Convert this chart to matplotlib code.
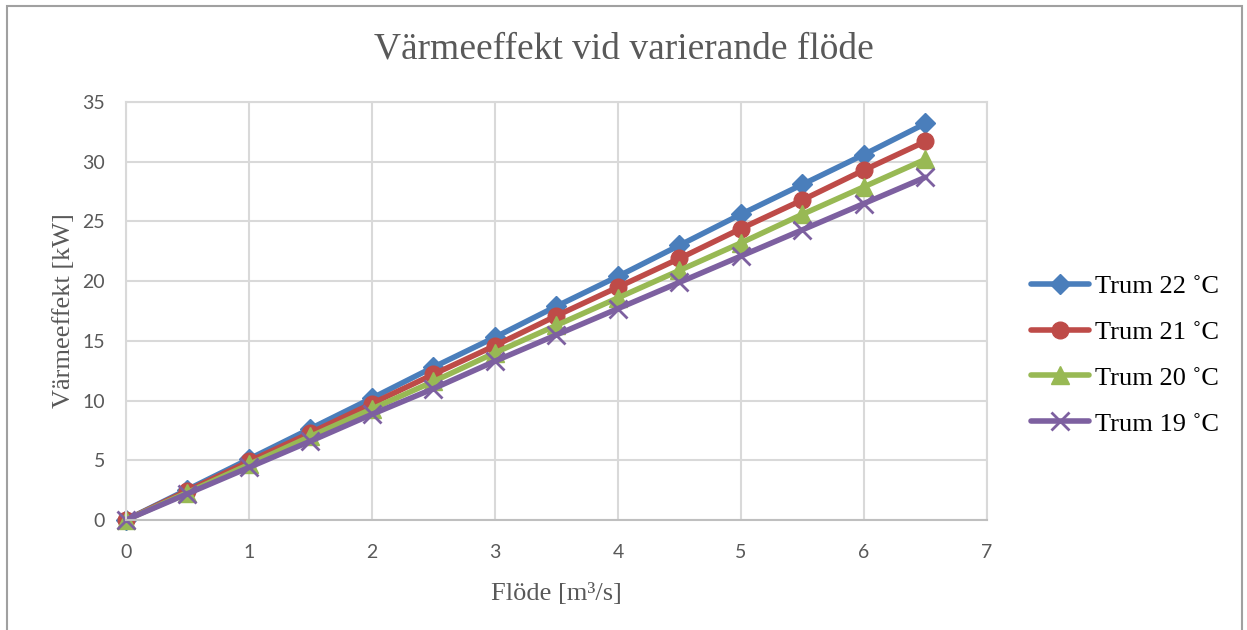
import matplotlib
matplotlib.use("Agg")
from matplotlib import pyplot as plt
from matplotlib.patches import Rectangle

# Flöde [m³/s]
flow = [0, 0.5, 1, 1.5, 2, 2.5, 3, 3.5, 4, 4.5, 5, 5.5, 6, 6.5]

# Värmeeffekt [kW] per trumtemperatur
trum_22 = [0, 2.55, 5.1, 7.65, 10.2, 12.8, 15.3, 17.9, 20.4, 23.0, 25.6, 28.1, 30.6, 33.2]
trum_21 = [0, 2.45, 4.9, 7.3, 9.75, 12.2, 14.6, 17.1, 19.5, 21.9, 24.4, 26.8, 29.3, 31.7]
trum_20 = [0, 2.3, 4.65, 7.0, 9.3, 11.6, 14.0, 16.3, 18.6, 20.9, 23.2, 25.6, 27.9, 30.2]
trum_19 = [0, 2.2, 4.4, 6.6, 8.85, 11.0, 13.3, 15.5, 17.7, 19.9, 22.1, 24.3, 26.5, 28.7]

labels = ['Trum 22 \u02daC', 'Trum 21 \u02daC', 'Trum 20 \u02daC', 'Trum 19 \u02daC']
x_ticks = [0, 1, 2, 3, 4, 5, 6, 7]
y_ticks = [0, 5, 10, 15, 20, 25, 30, 35]

serif = ['Liberation Serif', 'DejaVu Serif']
grey_text = '#595959'
grid_col = '#D9D9D9'

fig = plt.figure(figsize=(12.47, 6.30), dpi=100)
ax = fig.add_axes([0.101, 0.1746, 0.6905, 0.6635])

styles = [
    dict(color='#4A7EBB', marker='D', ms=10),
    dict(color='#BE4B48', marker='o', ms=12),
    dict(color='#98B954', marker='^', ms=13),
    dict(color='#7D60A0', marker='x', ms=13, mew=2),
]
for ys, lab, st in zip([trum_22, trum_21, trum_20, trum_19], labels, styles):
    ax.plot(flow, ys, lw=4, label=lab, solid_capstyle='round', clip_on=False, **st)

ax.set_xlim(0, 7)
ax.set_ylim(0, 35)
ax.set_xticks(x_ticks)
ax.set_yticks(y_ticks)
ax.grid(True, color=grid_col, lw=1.5)
ax.set_axisbelow(True)
for side in ['top', 'right', 'left', 'bottom']:
    ax.spines[side].set_color(grid_col)
    ax.spines[side].set_linewidth(1.5)
ax.spines['bottom'].set_color('#BFBFBF')
ax.tick_params(length=0, labelsize=14, labelcolor=grey_text)
ax.tick_params(axis='x', pad=17)
ax.tick_params(axis='y', pad=15)
for t in ax.get_xticklabels() + ax.get_yticklabels():
    t.set_family('Lato')

ax.set_xlabel('Flöde [m³/s]', family=serif, fontsize=19, color=grey_text, labelpad=16)
ax.set_ylabel('Värmeeffekt [kW]', family=serif, fontsize=19, color=grey_text, labelpad=5)
fig.text(0.5, 0.922, 'Värmeeffekt vid varierande flöde', family=serif,
         fontsize=27, color=grey_text, ha='center', va='center')

fig.legend(loc='center left', bbox_to_anchor=(0.808, 0.4365), frameon=False,
           prop={'family': serif, 'size': 19}, handlelength=2.2,
           handletextpad=0.2, labelspacing=0.85)

# outer frame of the chart area
fig.patches.append(Rectangle((7 / 1247, -0.05), 1235 / 1247, 1.05 - 6 / 630,
                             transform=fig.transFigure, fill=False,
                             edgecolor='#A0A0A0', lw=1.5))

fig.savefig('out.png', dpi=100)
